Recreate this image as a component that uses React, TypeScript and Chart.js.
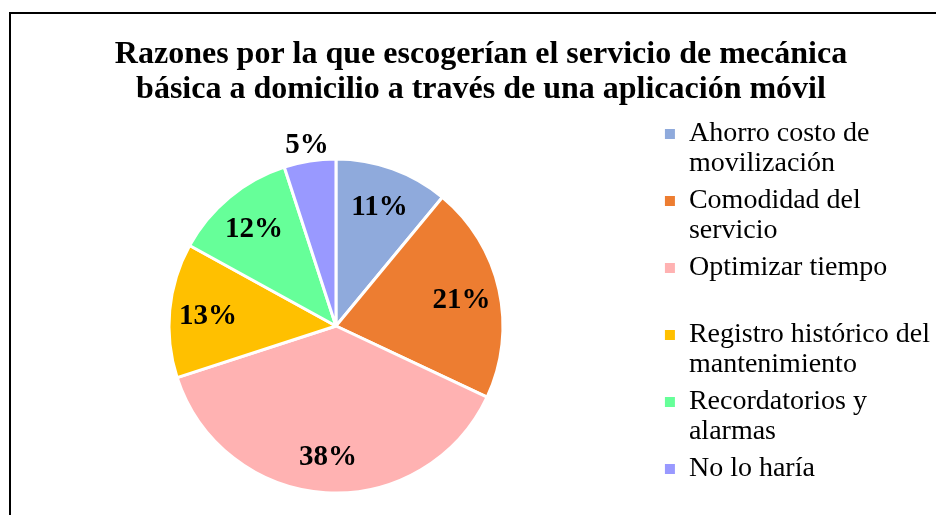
import React, { useEffect, useRef } from "react";
import { Chart, registerables } from "chart.js";

Chart.register(...registerables);

const FONT = "'Liberation Serif', 'Times New Roman', serif";

const TITLE_LINES = [
  "Razones por la que escogerían el servicio de mecánica",
  "básica a domicilio a través de una aplicación móvil",
];

const CATEGORIES = [
  "Ahorro costo de movilización",
  "Comodidad del servicio",
  "Optimizar tiempo",
  "Registro histórico del mantenimiento",
  "Recordatorios y alarmas",
  "No lo haría",
];

const LEGEND_LINES = [
  ["Ahorro costo de", "movilización"],
  ["Comodidad del", "servicio"],
  ["Optimizar tiempo", ""],
  ["Registro histórico del", "mantenimiento"],
  ["Recordatorios y", "alarmas"],
  ["No lo haría"],
];

const VALUES = [11, 21, 38, 13, 12, 5];

const COLORS = ["#8FAADC", "#ED7D31", "#FFB2B2", "#FFC000", "#66FF99", "#9999FF"];

const titlePlugin = {
  id: "excelTitle",
  afterDraw(chart: any) {
    const ctx = chart.ctx;
    ctx.save();
    ctx.font = `bold 32px ${FONT}`;
    ctx.fillStyle = "#000";
    ctx.textAlign = "center";
    ctx.textBaseline = "alphabetic";
    TITLE_LINES.forEach((line, i) => ctx.fillText(line, 481, 63 + i * 35));
    ctx.restore();
  },
};

const pieLabelPlugin = {
  id: "pieLabels",
  afterDatasetsDraw(chart: any) {
    const ctx = chart.ctx;
    const meta = chart.getDatasetMeta(0);
    const data = chart.data.datasets[0].data as number[];
    ctx.save();
    ctx.font = `bold 29px ${FONT}`;
    ctx.fillStyle = "#000";
    ctx.textAlign = "center";
    ctx.textBaseline = "middle";
    meta.data.forEach((arc: any, i: number) => {
      const { x, y, startAngle, endAngle, outerRadius } = arc.getProps(
        ["x", "y", "startAngle", "endAngle", "outerRadius"],
        true
      );
      const mid = (startAngle + endAngle) / 2;
      const r = data[i] < 8 ? outerRadius * 1.11 : outerRadius * 0.77;
      ctx.fillText(`${data[i]}%`, x + Math.cos(mid) * r, y + Math.sin(mid) * r + 3);
    });
    ctx.restore();
  },
};

export default function App() {
  const canvasRef = useRef<HTMLCanvasElement | null>(null);

  useEffect(() => {
    if (!canvasRef.current) return;
    const chart = new Chart(canvasRef.current, {
      type: "pie",
      data: {
        labels: CATEGORIES,
        datasets: [
          {
            data: VALUES,
            backgroundColor: COLORS,
            borderColor: "#ffffff",
            borderWidth: 3,
            radius: 167,
          } as any,
        ],
      },
      options: {
        responsive: true,
        maintainAspectRatio: false,
        animation: false,
        layout: { padding: { left: 14, right: 20, top: 113, bottom: 21 } },
        plugins: {
          title: { display: false },
          tooltip: { enabled: false },
          legend: {
            position: "right",
            align: "start",
            labels: {
              color: "#000",
              font: { family: FONT, size: 28, lineHeight: 30 / 28 },
              boxWidth: 10,
              boxHeight: 10,
              padding: 7,
              generateLabels: () =>
                LEGEND_LINES.map((text, i) => ({
                  text: text as any,
                  fillStyle: COLORS[i],
                  strokeStyle: COLORS[i],
                  lineWidth: 0,
                  hidden: false,
                  index: i,
                  fontColor: "#000",
                })),
            },
          },
        },
      },
      plugins: [titlePlugin, pieLabelPlugin],
    });
    return () => chart.destroy();
  }, []);

  return (
    <div
      style={{
        position: "fixed",
        left: 0,
        top: 0,
        width: 936,
        height: 515,
        overflow: "hidden",
        background: "#fff",
      }}
    >
      <div
        style={{
          position: "absolute",
          left: 9,
          top: 12,
          width: 1000,
          height: 600,
          borderLeft: "2px solid #000",
          borderTop: "2px solid #000",
        }}
      />
      <div style={{ position: "absolute", left: 0, top: 0, width: 960, height: 560 }}>
        <canvas ref={canvasRef} />
      </div>
    </div>
  );
}
